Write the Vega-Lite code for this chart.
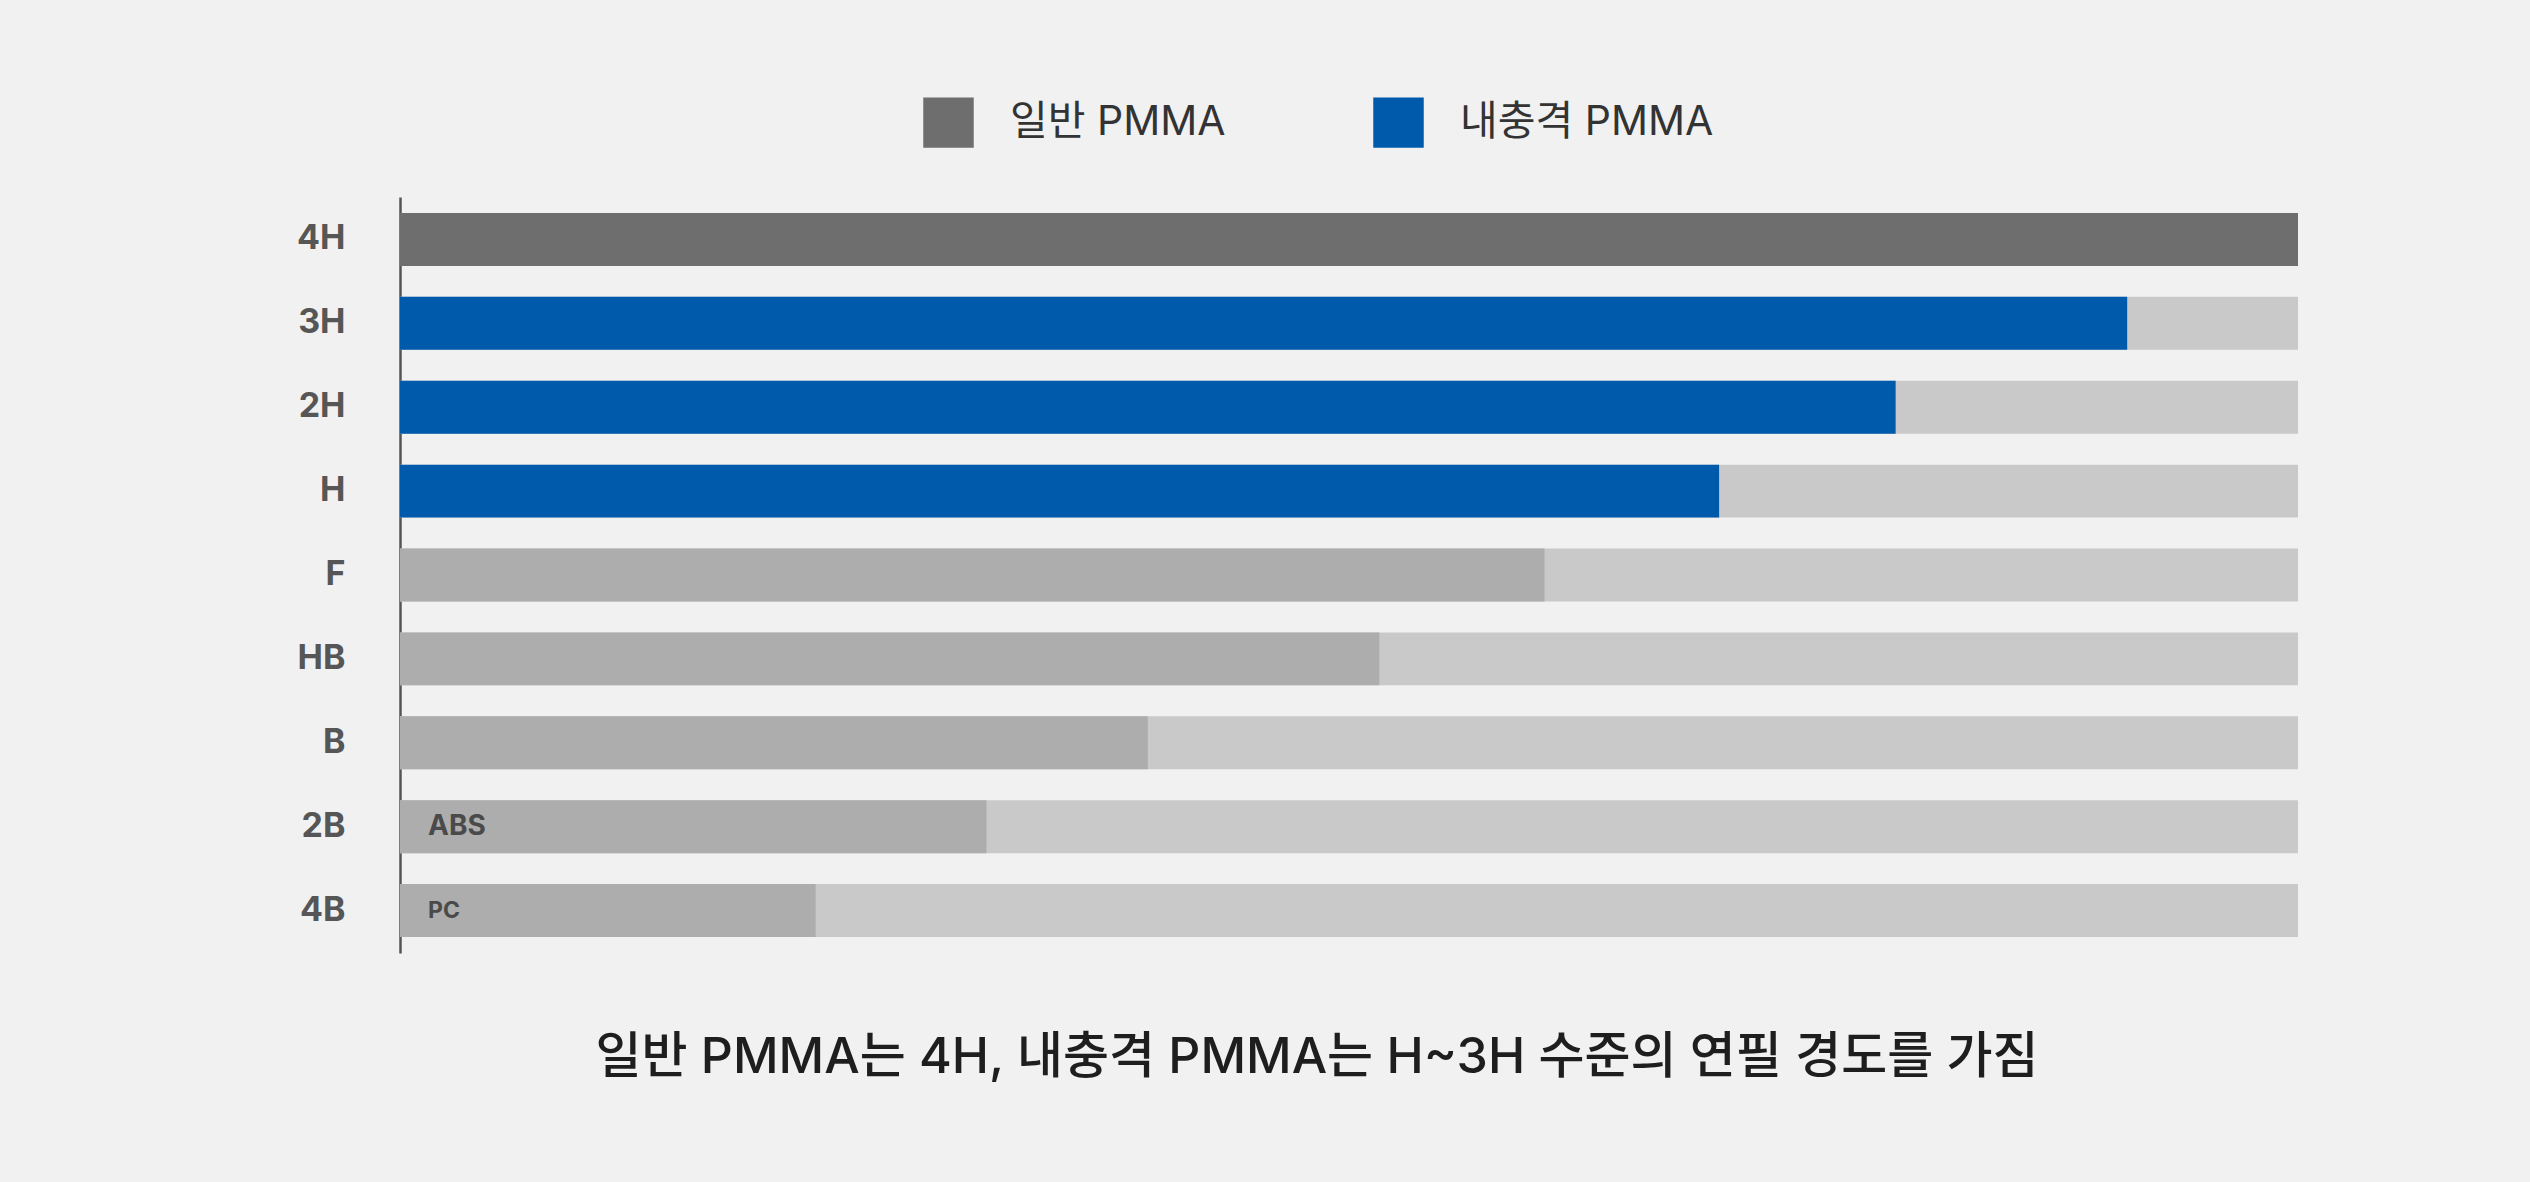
{
  "$schema": "https://vega.github.io/schema/vega-lite/v6.json",
  "autosize": {"type": "none"},
  "width": 1898,
  "height": 756,
  "padding": {"left": 400, "top": 197, "right": 232, "bottom": 229},
  "background": "#f1f1f1",
  "config": {
    "view": {"stroke": null},
    "font": "Inter, Noto Sans CJK KR"
  },
  "title": {
    "text": "일반 PMMA는 4H, 내충격 PMMA는 H~3H 수준의 연필 경도를 가짐",
    "orient": "bottom",
    "anchor": "middle",
    "frame": "group",
    "font": "Inter, Noto Sans CJK KR",
    "fontSize": 50,
    "fontWeight": 500,
    "color": "#1e1e1e",
    "offset": 80,
    "dx": -32,
    "baseline": "top"
  },
  "data": {
    "values": [
      {"grade": "4H", "value": 100, "type": "일반 PMMA"},
      {"grade": "3H", "value": 91.0, "type": "내충격 PMMA"},
      {"grade": "2H", "value": 78.8, "type": "내충격 PMMA"},
      {"grade": "H", "value": 69.5, "type": "내충격 PMMA"},
      {"grade": "F", "value": 60.3, "type": "기타"},
      {"grade": "HB", "value": 51.6, "type": "기타"},
      {"grade": "B", "value": 39.4, "type": "기타"},
      {"grade": "2B", "value": 30.9, "type": "기타", "material": "ABS"},
      {"grade": "4B", "value": 21.9, "type": "기타", "material": "PC"}
    ]
  },
  "encoding": {
    "y": {
      "field": "grade",
      "type": "nominal",
      "sort": ["4H", "3H", "2H", "H", "F", "HB", "B", "2B", "4B"],
      "scale": {"paddingInner": 0.369, "paddingOuter": 0.19},
      "title": null,
      "axis": {
        "domain": true,
        "domainColor": "#555555",
        "domainWidth": 2.5,
        "ticks": false,
        "grid": false,
        "labelPadding": 55,
        "labelFont": "Inter, Noto Sans CJK KR",
        "labelFontSize": 34,
        "labelFontWeight": "bold",
        "labelColor": "#565656"
      }
    }
  },
  "layer": [
    {
      "mark": {"type": "bar", "color": "#c9c9c9"},
      "encoding": {
        "x": {"datum": 100, "type": "quantitative", "scale": {"domain": [0, 100], "nice": false}, "axis": null}
      }
    },
    {
      "mark": {"type": "bar"},
      "encoding": {
        "x": {"field": "value", "type": "quantitative", "scale": {"domain": [0, 100], "nice": false}, "axis": null},
        "color": {
          "field": "type",
          "type": "nominal",
          "scale": {
            "domain": ["일반 PMMA", "내충격 PMMA", "기타"],
            "range": ["#6e6e6e", "#005aab", "#adadad"]
          },
          "legend": {
            "values": ["일반 PMMA", "내충격 PMMA"],
            "title": null,
            "orient": "none",
            "direction": "horizontal",
            "legendX": 523,
            "legendY": -100,
            "padding": 0,
            "symbolType": "square",
            "symbolSize": 2550,
            "symbolStrokeWidth": 0,
            "symbolOpacity": 1,
            "labelFont": "Inter, Noto Sans CJK KR",
            "labelFontSize": 41,
            "labelColor": "#333333",
            "labelOffset": 36,
            "labelLimit": 500,
            "columnPadding": 147
          }
        }
      }
    },
    {
      "transform": [{"filter": "datum.material === 'ABS'"}],
      "mark": {"type": "text", "align": "left", "baseline": "middle", "dx": 28, "fontSize": 28, "fontWeight": "bold", "color": "#4a4a4a", "font": "Inter, Noto Sans CJK KR"},
      "encoding": {
        "x": {"datum": 0, "type": "quantitative", "scale": {"domain": [0, 100], "nice": false}, "axis": null},
        "text": {"field": "material"}
      }
    },
    {
      "transform": [{"filter": "datum.material === 'PC'"}],
      "mark": {"type": "text", "align": "left", "baseline": "middle", "dx": 28, "fontSize": 23, "fontWeight": "bold", "color": "#4a4a4a", "font": "Inter, Noto Sans CJK KR"},
      "encoding": {
        "x": {"datum": 0, "type": "quantitative", "scale": {"domain": [0, 100], "nice": false}, "axis": null},
        "text": {"field": "material"}
      }
    }
  ]
}
